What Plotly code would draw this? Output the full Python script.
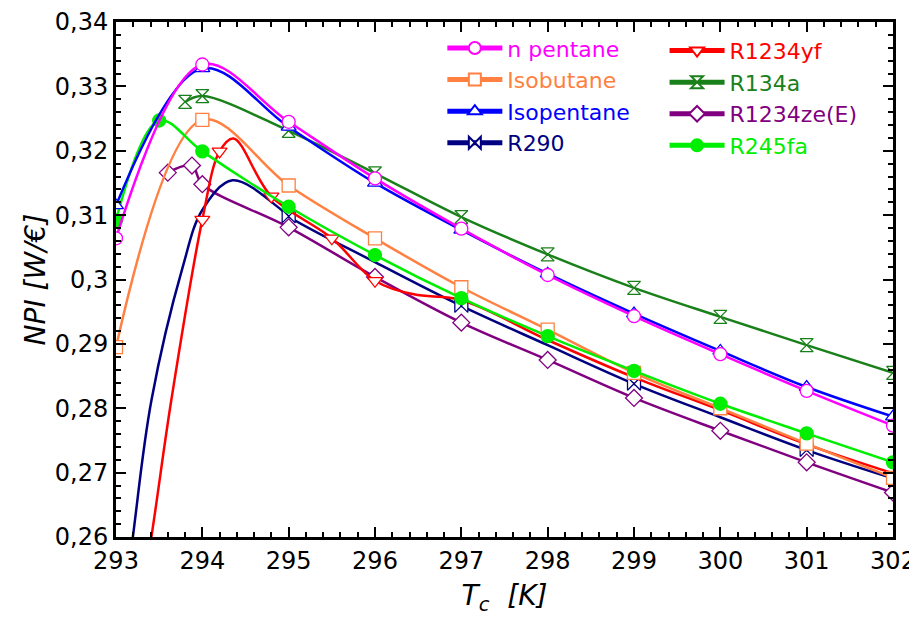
import plotly.graph_objects as go

# ---------------- data ----------------
x_ticks = [293, 294, 295, 296, 297, 298, 299, 300, 301, 302]
x_ticklabels = ["293", "294", "295", "296", "297", "298", "299", "300", "301", "302"]
y_ticks = [0.26, 0.27, 0.28, 0.29, 0.30, 0.31, 0.32, 0.33, 0.34]
y_ticklabels = ["0,26", "0,27", "0,28", "0,29", "0,3", "0,31", "0,32", "0,33", "0,34"]

npentane_x = [293, 294, 295, 296, 297, 298, 299, 300, 301, 302]
npentane_y = [0.3064, 0.3334, 0.3245, 0.3157, 0.3079, 0.3007, 0.2943, 0.2884, 0.2827, 0.2773]
npentane_marked = [1, 1, 1, 1, 1, 1, 1, 1, 1, 1]

isobutane_x = [293, 294, 295, 296, 297, 298, 299, 300, 301, 302]
isobutane_y = [0.2895, 0.3248, 0.3146, 0.3064, 0.2988, 0.2922, 0.2855, 0.2800, 0.2745, 0.2692]
isobutane_marked = [1, 1, 1, 1, 1, 1, 1, 1, 1, 1]

isopentane_x = [293, 294, 295, 296, 297, 298, 299, 300, 301, 302]
isopentane_y = [0.3115, 0.3328, 0.3237, 0.3150, 0.3077, 0.3009, 0.2947, 0.2889, 0.2833, 0.2787]
isopentane_marked = [1, 1, 1, 1, 1, 1, 1, 1, 1, 1]

r290_x = [293.0, 293.2, 293.41, 293.77, 294.0, 294.35, 294.9, 295, 296, 297, 298, 299, 300, 301, 302]
r290_y = [0.2380, 0.2605, 0.2812, 0.3018, 0.3108, 0.3154, 0.3110, 0.3098, 0.3027, 0.2959, 0.2898,
          0.2838, 0.2786, 0.2735, 0.2691]
r290_marked = [0, 0, 0, 0, 0, 0, 0, 1, 0, 1, 0, 1, 0, 1, 0]

r1234yf_x = [293.0, 293.41, 293.64, 294.0, 294.2, 294.36, 294.8, 295.5, 296.0, 296.45, 297, 298,
             299, 300, 301, 302]
r1234yf_y = [0.2250, 0.2600, 0.2812, 0.3093, 0.3199, 0.3219, 0.3129, 0.3064, 0.2998, 0.2977,
             0.2968, 0.2906, 0.2848, 0.2797, 0.2744, 0.2699]
r1234yf_marked = [0, 0, 0, 1, 1, 0, 1, 1, 1, 0, 0, 0, 0, 0, 0, 0]

r134a_x = [293.8, 294, 295, 296, 297, 298, 299, 300, 301, 302]
r134a_y = [0.3276, 0.3285, 0.3231, 0.3165, 0.3097, 0.3039, 0.2987, 0.2942, 0.2898, 0.2855]
r134a_marked = [1, 1, 1, 1, 1, 1, 1, 1, 1, 1]

r1234ze_x = [293.6, 293.88, 294.0, 295, 296, 297, 298, 299, 300, 301, 302]
r1234ze_y = [0.3166, 0.3177, 0.3148, 0.3081, 0.3004, 0.2933, 0.2875, 0.2816, 0.2765, 0.2716, 0.2669]
r1234ze_marked = [1, 1, 1, 1, 1, 1, 1, 1, 1, 1, 1]

r245fa_x = [293, 293.5, 294, 295, 296, 297, 298, 299, 300, 301, 302]
r245fa_y = [0.3092, 0.3247, 0.3199, 0.3113, 0.3038, 0.2971, 0.2912, 0.2858, 0.2807, 0.2761, 0.2716]
r245fa_marked = [1, 1, 1, 1, 1, 1, 1, 1, 1, 1, 1]

# ---------------- styling ----------------
FONT = "DejaVu Sans"
series = [
    # name, x, y, marked, colour, symbol, filled, legend, rank
    ("R1234ze(E)", r1234ze_x, r1234ze_y, r1234ze_marked, "#800080", "diamond", False, "legend2", 3),
    ("R290", r290_x, r290_y, r290_marked, "#000080", "bowtie", False, "legend", 4),
    ("R1234yf", r1234yf_x, r1234yf_y, r1234yf_marked, "#FF0000", "triangle-down", False, "legend2", 1),
    ("Isobutane", isobutane_x, isobutane_y, isobutane_marked, "#FF8040", "square", False, "legend", 2),
    ("R245fa", r245fa_x, r245fa_y, r245fa_marked, "#00EE00", "circle", True, "legend2", 4),
    ("R134a", r134a_x, r134a_y, r134a_marked, "#1A801A", "hourglass", False, "legend2", 2),
    ("Isopentane", isopentane_x, isopentane_y, isopentane_marked, "#0000FF", "triangle-up", False, "legend", 3),
    ("n pentane", npentane_x, npentane_y, npentane_marked, "#FF00FF", "circle", False, "legend", 1),
]

fig = go.Figure()
for name, xs, ys, marked, col, sym, filled, leg, rank in series:
    fill = col if filled else "#FFFFFF"
    # the curve
    fig.add_trace(go.Scatter(
        x=xs, y=ys, mode="lines", showlegend=False, name=name,
        line=dict(color=col, width=2.5, shape="spline", smoothing=1.0),
    ))
    # the symbols at the marked points
    mx = [x for x, m in zip(xs, marked) if m]
    my = [y for y, m in zip(ys, marked) if m]
    fig.add_trace(go.Scatter(
        x=mx, y=my, mode="markers", showlegend=False, name=name,
        marker=dict(symbol=sym, size=13, color=fill, line=dict(color=col, width=1.3)),
    ))
    # legend entry (line + symbol)
    fig.add_trace(go.Scatter(
        x=[None], y=[None], mode="lines+markers",
        name=f'<span style="color:{col}">{name}</span>',
        line=dict(color=col, width=2.5),
        marker=dict(symbol=sym, size=12, color=fill, line=dict(color=col, width=1.3)),
        legend=leg, legendrank=rank,
    ))

axis_common = dict(
    showgrid=False, zeroline=False, showline=True, linecolor="black", linewidth=3,
    mirror="allticks", ticks="inside", ticklen=10, tickwidth=2, tickcolor="black",
    tickfont=dict(family=FONT, size=24, color="black"), automargin=False,
)

# the page adds an 8 px body margin, so the figure is 8 px smaller than the window
fig.update_layout(
    width=909, height=610,
    margin=dict(l=108, r=24, t=14, b=81),
    paper_bgcolor="white", plot_bgcolor="white",
    font=dict(family=FONT, color="black"),
    xaxis=dict(
        range=[293, 302], tickmode="array", tickvals=x_ticks, ticktext=x_ticklabels,
        minor=dict(ticks="inside", ticklen=5, tickwidth=1.5, tickcolor="black", dtick=0.2, tick0=293,
                   showgrid=False),
        title=dict(text="<i>T<sub>c</sub>  [K]</i>", font=dict(family=FONT, size=28), standoff=12),
        **axis_common,
    ),
    yaxis=dict(
        range=[0.26, 0.34], tickmode="array", tickvals=y_ticks, ticktext=y_ticklabels,
        minor=dict(ticks="inside", ticklen=5, tickwidth=1.5, tickcolor="black", dtick=0.002, tick0=0.26,
                   showgrid=False),
        title=dict(text="<i>NPI [W/€]</i>", font=dict(family=FONT, size=28), standoff=1),
        **axis_common,
    ),
    legend=dict(x=0.42, y=0.99, xanchor="left", yanchor="top", bgcolor="rgba(0,0,0,0)",
                font=dict(family=FONT, size=22), itemsizing="constant", itemwidth=55,
                tracegroupgap=0),
    legend2=dict(x=0.706, y=0.985, xanchor="left", yanchor="top", bgcolor="rgba(0,0,0,0)",
                 font=dict(family=FONT, size=22), itemsizing="constant", itemwidth=55,
                 tracegroupgap=0),
)

fig.write_html("out.html")
